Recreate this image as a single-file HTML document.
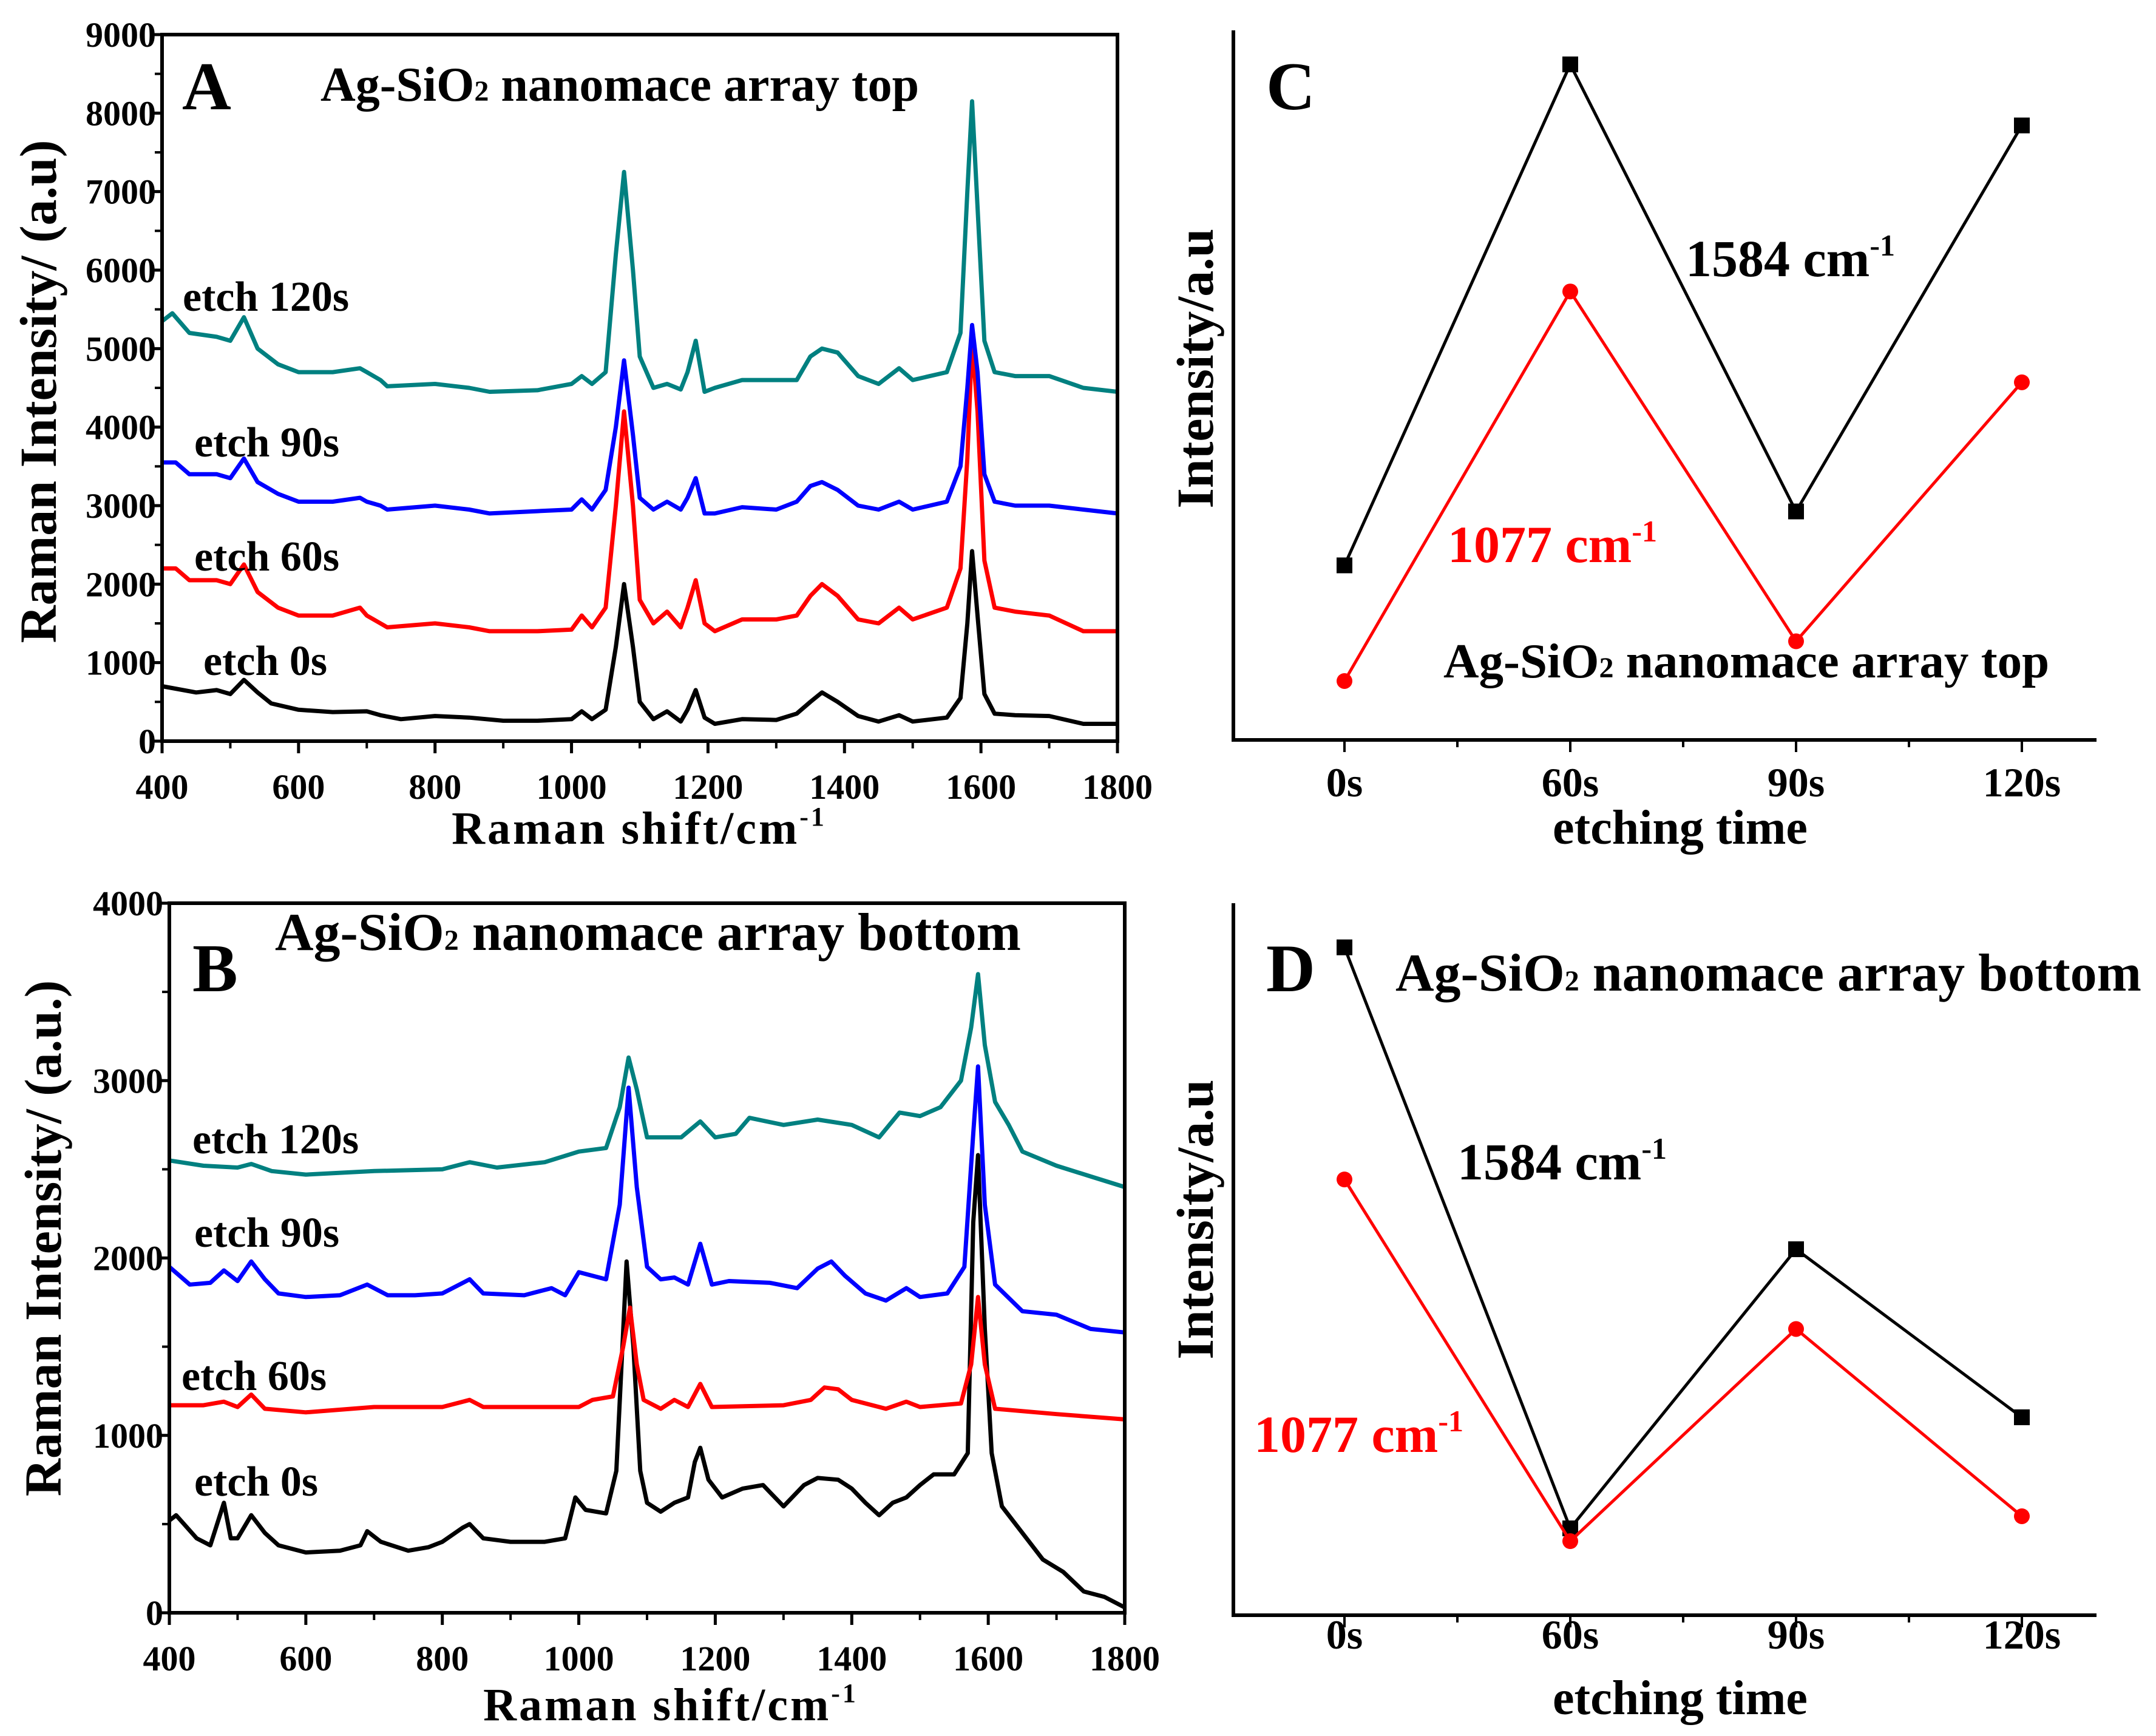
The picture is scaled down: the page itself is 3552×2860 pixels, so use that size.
<!DOCTYPE html>
<html><head><meta charset="utf-8"><style>
html,body{margin:0;padding:0;background:#fff}
svg{display:block}
text{font-family:"Liberation Serif",serif;font-weight:bold}
</style></head><body>
<svg id="fig" width="3552" height="2860" viewBox="0 0 3552 2860" xmlns="http://www.w3.org/2000/svg"></svg>
<script>
// ---------- Data ----------
const xTicks = [400,600,800,1000,1200,1400,1600,1800];
const yTicksA = [0,1000,2000,3000,4000,5000,6000,7000,8000,9000];
const yTicksB = [0,1000,2000,3000,4000];
const seriesNames = ['etch 0s','etch 60s','etch 90s','etch 120s'];
const seriesColors = ['#000000','#ff0000','#0000ff','#008080'];

const aShift0 = [400,450,480,500,520,540,560,600,650,700,720,750,800,850,900,950,1000,1015,1030,1050,1065,1077,1090,1100,1120,1140,1160,1170,1182,1195,1210,1250,1300,1330,1350,1367,1390,1420,1450,1480,1500,1550,1570,1580,1587,1595,1605,1620,1650,1700,1750,1800];
const aInt0 = [700,620,650,600,780,620,480,400,370,380,330,280,320,300,260,260,280,380,280,400,1200,2000,1200,500,280,380,250,400,650,300,220,280,270,350,500,620,500,320,250,330,250,300,550,1500,2420,1600,600,350,330,320,220,220];
const aShift60 = [400,420,440,480,500,520,540,570,600,650,690,700,720,730,800,850,880,950,1000,1015,1030,1050,1065,1077,1090,1100,1120,1140,1160,1170,1182,1195,1210,1250,1300,1330,1350,1367,1390,1420,1450,1480,1500,1550,1570,1580,1587,1595,1605,1620,1650,1700,1750,1800];
const aInt60 = [2200,2200,2050,2050,2000,2250,1900,1700,1600,1600,1700,1600,1500,1450,1500,1450,1400,1400,1420,1600,1450,1700,3000,4200,3000,1800,1500,1650,1450,1700,2050,1500,1400,1550,1550,1600,1850,2000,1850,1550,1500,1700,1550,1700,2200,3600,5100,4200,2300,1700,1650,1600,1400,1400];
const aShift90 = aShift60;
const aInt90 = [3550,3550,3400,3400,3350,3600,3300,3150,3050,3050,3100,3050,3000,2950,3000,2950,2900,2930,2950,3080,2950,3200,4000,4850,3900,3100,2950,3050,2950,3100,3350,2900,2900,2980,2950,3050,3250,3300,3200,3000,2950,3050,2950,3050,3500,4500,5300,4700,3400,3050,3000,3000,2950,2900];
const aShift120 = [400,415,440,480,500,520,540,570,600,650,690,700,720,730,800,850,880,950,1000,1015,1030,1050,1065,1077,1090,1100,1120,1140,1160,1170,1182,1195,1210,1250,1300,1330,1350,1367,1390,1420,1450,1480,1500,1550,1570,1580,1587,1595,1605,1620,1650,1700,1750,1800];
const aInt120 = [5350,5450,5200,5150,5100,5400,5000,4800,4700,4700,4750,4700,4600,4520,4550,4500,4450,4470,4550,4650,4550,4700,6200,7250,6000,4900,4500,4550,4480,4700,5100,4450,4500,4600,4600,4600,4900,5000,4950,4650,4550,4750,4600,4700,5200,7000,8150,6800,5100,4700,4650,4650,4500,4450];

const bShift0 = [400,410,440,460,480,490,500,520,540,560,600,650,680,690,710,750,780,800,830,840,860,900,950,980,995,1010,1040,1055,1070,1080,1090,1100,1120,1140,1160,1170,1178,1190,1210,1240,1270,1300,1330,1350,1380,1400,1420,1440,1460,1480,1500,1520,1550,1570,1578,1585,1595,1605,1620,1650,1680,1710,1740,1770,1800];
const bInt0 = [520,550,420,380,620,420,420,550,450,380,340,350,380,460,400,350,370,400,480,500,420,400,400,420,650,580,560,800,1980,1500,800,620,570,620,650,850,930,750,650,700,720,600,720,760,750,700,620,550,620,650,720,780,780,900,2200,2580,1600,900,600,450,300,230,120,90,30];
const bShift60 = [400,450,480,500,520,540,600,700,800,840,860,1000,1020,1050,1065,1075,1085,1095,1120,1140,1160,1178,1195,1300,1340,1360,1380,1400,1450,1480,1500,1560,1575,1585,1595,1610,1700,1800];
const bInt60 = [1170,1170,1190,1160,1230,1150,1130,1160,1160,1200,1160,1160,1200,1220,1500,1720,1400,1200,1150,1200,1160,1290,1160,1170,1200,1270,1260,1200,1150,1190,1160,1180,1400,1780,1400,1150,1120,1090];
const bShift90 = [400,430,460,480,500,520,540,560,600,650,690,720,760,800,840,860,920,960,980,1000,1040,1060,1073,1085,1100,1120,1140,1160,1178,1195,1220,1280,1320,1350,1370,1390,1420,1450,1480,1500,1540,1565,1578,1585,1595,1610,1650,1700,1750,1800];
const bInt90 = [1950,1850,1860,1930,1870,1980,1880,1800,1780,1790,1850,1790,1790,1800,1880,1800,1790,1830,1790,1920,1880,2300,2960,2400,1950,1880,1890,1850,2080,1850,1870,1860,1830,1940,1980,1900,1800,1760,1830,1780,1800,1950,2700,3080,2300,1850,1700,1680,1600,1580];
const bShift120 = [400,450,500,520,550,600,700,800,840,880,950,1000,1040,1060,1073,1085,1100,1150,1178,1200,1230,1250,1300,1350,1400,1440,1470,1500,1530,1560,1575,1585,1595,1610,1630,1650,1700,1750,1800];
const bInt120 = [2550,2520,2510,2530,2490,2470,2490,2500,2540,2510,2540,2600,2620,2850,3130,2950,2680,2680,2770,2680,2700,2790,2750,2780,2750,2680,2820,2800,2850,3000,3300,3600,3200,2880,2750,2600,2520,2460,2400];

const etchCats = ['0s','60s','90s','120s'];
const cPeak1584 = [24.6,95.2,32.2,86.6];
const cPeak1077 = [8.3,63.2,13.9,50.4];
const dPeak1584 = [93.8,12.2,51.4,27.8];
const dPeak1077 = [61.2,10.4,40.2,13.9];

// ---------- Helpers ----------
const NS='http://www.w3.org/2000/svg';
const svg=document.getElementById('fig');
function mk(tag,attrs,parent){const e=document.createElementNS(NS,tag);for(const k in attrs)e.setAttribute(k,attrs[k]);(parent||svg).appendChild(e);return e;}
function txt(str,x,y,size,opts,parent){opts=opts||{};const t=mk('text',{x:x,y:y,'font-size':size,fill:opts.fill||'#000','text-anchor':opts.anchor||'start'},parent);t.textContent=str;return t;}

function spectrumPanel(id,L,R,T,B,ymax,yTicks,minorY,series,labels,letter,title,titleSize,yTitle){
  const g=mk('g',{});
  
  
  const sx=v=>L+(v-400)/(1400)*(R-L);
  const sy=v=>B-v/ymax*(B-T);
  xTicks.forEach(v=>{mk('line',{x1:sx(v),x2:sx(v),y1:B,y2:B+20,stroke:'#000','stroke-width':5},g);
    const t=txt(String(v),sx(v),labels.xLabY,58,{anchor:'middle'},g);
    });
  for(let v=500;v<1800;v+=200){mk('line',{x1:sx(v),x2:sx(v),y1:B,y2:B+12,stroke:'#000','stroke-width':4},g);}
  yTicks.forEach(v=>{mk('line',{x1:L-20,x2:L,y1:sy(v),y2:sy(v),stroke:'#000','stroke-width':5},g);
    const t=txt(String(v),L-10,sy(v)+20,58,{anchor:'end'},g);
    });
  for(let v=minorY;v<ymax;v+=minorY*2){mk('line',{x1:L-12,x2:L,y1:sy(v),y2:sy(v),stroke:'#000','stroke-width':4},g);}
  series.forEach((s,i)=>{
    const d=s.x.map((xv,j)=>(j?'L':'M')+sx(xv).toFixed(1)+','+sy(s.y[j]).toFixed(1)).join(' ');
    const p=mk('path',{d:d,fill:'none',stroke:seriesColors[i],'stroke-width':7,'stroke-linejoin':'round'},g);
    
    
    const t=txt(seriesNames[i],labels.etch[i][0],labels.etch[i][1],70,{},g);
    
  });
  const fr=mk('rect',{x:L,y:T,width:R-L,height:B-T,fill:'none',stroke:'#000','stroke-width':6},g);
  
  const lt=txt(letter,labels.letter[0],labels.letter[1],112,{},g);
  
  const tt=mk('text',{x:labels.title[0],y:labels.title[1],'font-size':titleSize},g);
  tt.innerHTML=title;
  
  const yt=mk('text',{x:labels.ytitle[0],y:labels.ytitle[1],'font-size':86,'text-anchor':'middle',transform:'rotate(-90 '+labels.ytitle[0]+' '+labels.ytitle[1]+')'},g);
  yt.textContent=yTitle;
  
  const xt=mk('text',{x:labels.xtitle[0],y:labels.xtitle[1],'font-size':76,'text-anchor':'middle','letter-spacing':'4'},g);
  xt.innerHTML='Raman shift/cm<tspan font-size="44" dy="-30">-1</tspan>';
  
}

function trendPanel(id,L,R,T,B,cx,s1584,s1077,lab){
  const g=mk('g',{});
  
  
  const sx=i=>cx[0]+i*(cx[1]-cx[0]);
  const sy=v=>B-v/100*(B-T);
  const ax=mk('path',{d:'M'+L+','+T+' L'+L+','+B+' L'+R+','+B,fill:'none',stroke:'#000','stroke-width':6},g);
  
  for(let k=-0.5;k<=3.5;k+=0.5){const x=sx(k);if(x<L-2||x>R+2)continue;mk('line',{x1:x,x2:x,y1:B,y2:B+(k%1===0?20:12),stroke:'#000','stroke-width':4},g);}
  etchCats.forEach((c,i)=>{const t=txt(c,sx(i),lab.xLabY,68,{anchor:'middle'},g);
    });
  [[s1584,'#000','square','line-1584'],[s1077,'#ff0000','circle','line-1077']].forEach(([arr,col,shape,nm])=>{
    const d=arr.map((v,i)=>(i?'L':'M')+sx(i)+','+sy(v)).join(' ');
    const p=mk('path',{d:d,fill:'none',stroke:col,'stroke-width':5},g);
    
    arr.forEach((v,i)=>{let m;
      if(shape==='square')m=mk('rect',{x:sx(i)-13,y:sy(v)-13,width:26,height:26,fill:col},g);
      else m=mk('circle',{cx:sx(i),cy:sy(v),r:13,fill:col},g);
      });
  });
  const lt=txt(lab.letter,lab.letterPos[0],lab.letterPos[1],112,{},g);
  
  const a=mk('text',{x:lab.l1584[0],y:lab.l1584[1],'font-size':86},g);
  a.innerHTML='1584 cm<tspan font-size="50" dy="-34">-1</tspan>';
  
  const b=mk('text',{x:lab.l1077[0],y:lab.l1077[1],'font-size':86,fill:'#ff0000'},g);
  b.innerHTML='1077 cm<tspan font-size="50" dy="-34">-1</tspan>';
  
  const tt=mk('text',{x:lab.title[0],y:lab.title[1],'font-size':lab.titleSize},g);
  tt.innerHTML=lab.titleHTML;
  
  const yt=mk('text',{x:lab.ytitle[0],y:lab.ytitle[1],'font-size':86,'text-anchor':'middle',transform:'rotate(-90 '+lab.ytitle[0]+' '+lab.ytitle[1]+')'},g);
  yt.textContent='Intensity/a.u';
  
  const xt=txt('etching time',lab.xtitle[0],lab.xtitle[1],80,{anchor:'middle'},g);
  
}

const sub2='<tspan font-size="48">2</tspan>';
spectrumPanel('a',267,1841,57,1221,9000,yTicksA,500,
  [{x:aShift0,y:aInt0},{x:aShift60,y:aInt60},{x:aShift90,y:aInt90},{x:aShift120,y:aInt120}],
  {xLabY:1316,etch:[[335,1112],[320,940],[320,752],[301,512]],letter:[300,180],title:[528,166],ytitle:[92,645],xtitle:[1053,1390]},
  'A','Ag-SiO'+sub2+' nanomace array top',80,'Raman Intensity/ (a.u)');
spectrumPanel('b',279,1853,1488,2657,4000,yTicksB,500,
  [{x:bShift0,y:bInt0},{x:bShift60,y:bInt60},{x:bShift90,y:bInt90},{x:bShift120,y:bInt120}],
  {xLabY:2752,etch:[[320,2464],[299,2290],[320,2054],[317,1900]],letter:[317,1633],title:[453,1565],ytitle:[100,2040],xtitle:[1105,2834]},
  'B','Ag-SiO'+sub2+' nanomace array bottom',88,'Raman Intensity/ (a.u.)');
trendPanel('c',2032,3454,50,1219,[2215,2587],cPeak1584,cPeak1077,
  {xLabY:1312,letter:'C',letterPos:[2086,180],l1584:[2777,455],l1077:[2385,926],title:[2378,1116],titleSize:81,
   titleHTML:'Ag-SiO'+sub2+' nanomace array top',ytitle:[1998,607],xtitle:[2768,1390]});
trendPanel('d',2032,3454,1488,2661,[2215,2587],dPeak1584,dPeak1077,
  {xLabY:2716,letter:'D',letterPos:[2086,1633],l1584:[2401,1943],l1077:[2066,2392],title:[2299,1632],titleSize:88,
   titleHTML:'Ag-SiO'+sub2+' nanomace array bottom',ytitle:[1998,2009],xtitle:[2768,2824]});
</script>
</body></html>
